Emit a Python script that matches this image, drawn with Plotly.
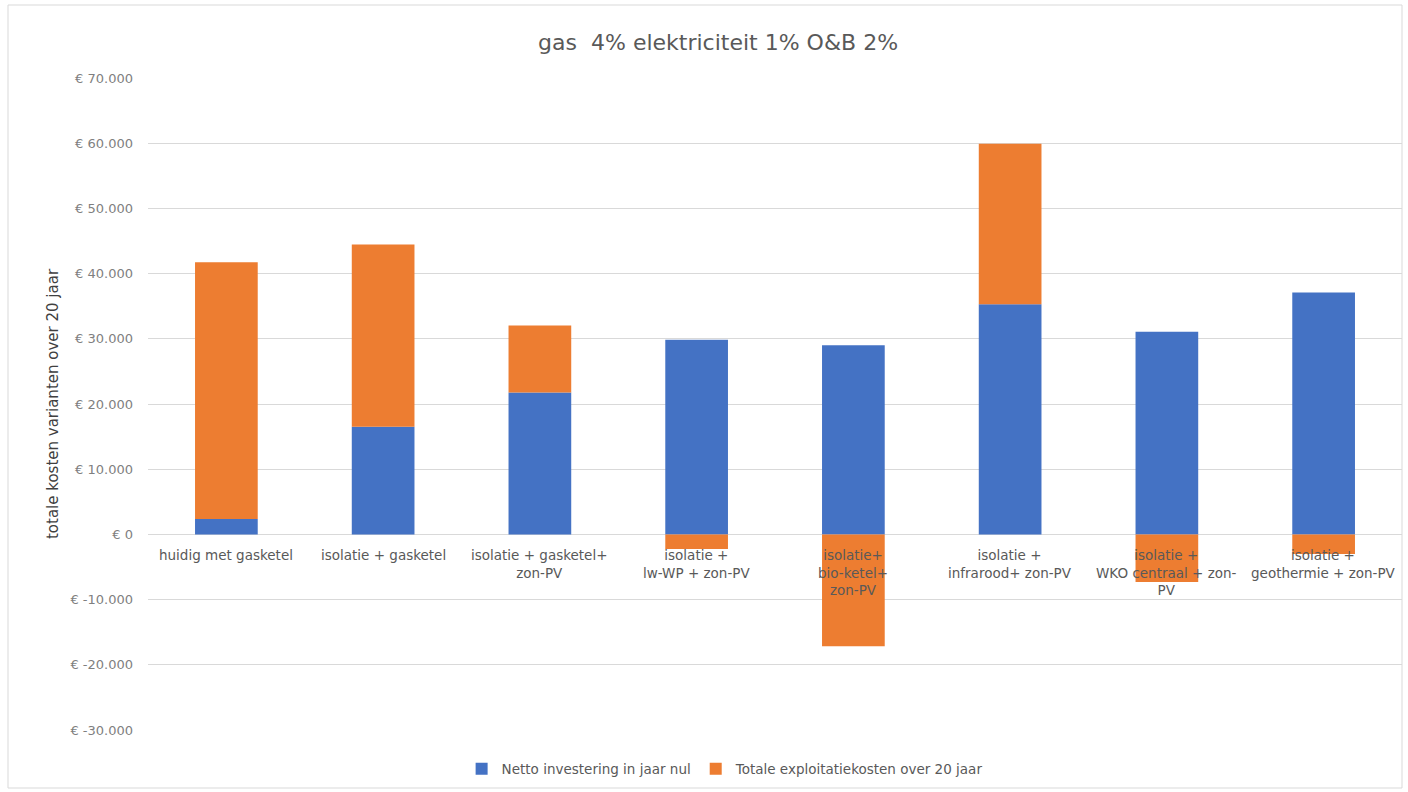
import plotly.graph_objects as go

categories = [
    "huidig met gasketel",
    "isolatie + gasketel",
    "isolatie + gasketel+<br>zon-PV",
    "isolatie +<br>lw-WP + zon-PV",
    "isolatie+<br>bio-ketel+<br>zon-PV",
    "isolatie +<br>infrarood+ zon-PV",
    "isolatie +<br>WKO centraal + zon-<br>PV",
    "isolatie +<br>geothermie + zon-PV",
]
netto_investering = [2350, 16500, 21750, 29850, 29000, 35300, 31100, 37100]
exploitatiekosten = [39400, 27950, 10300, -2250, -17150, 24600, -7300, -3000]

tick_vals = [-30000, -20000, -10000, 0, 10000, 20000, 30000, 40000, 50000, 60000, 70000]
tick_text = ["€ -30.000", "€ -20.000", "€ -10.000", "€ 0", "€ 10.000", "€ 20.000",
             "€ 30.000", "€ 40.000", "€ 50.000", "€ 60.000", "€ 70.000"]

font_family = "'DejaVu Sans', sans-serif"
grey = "#595959"

fig = go.Figure()
fig.add_trace(go.Bar(x=categories, y=netto_investering, name="Netto investering in jaar nul",
                     marker=dict(color="#4472C4", line=dict(width=0))))
fig.add_trace(go.Bar(x=categories, y=exploitatiekosten, name="Totale exploitatiekosten over 20 jaar",
                     marker=dict(color="#ED7D31", line=dict(width=0))))

for c in categories:
    fig.add_annotation(x=c, y=0, xref="x", yref="y", text=c, showarrow=False,
                       yanchor="top", yshift=-11, font=dict(family=font_family, size=13.5, color=grey),
                       align="center")

fig.add_shape(type="rect", xref="paper", yref="paper",
              x0=-140/1254, x1=1.0, y0=-58/652, y1=1 + 73/652,
              line=dict(color="#d9d9d9", width=1), fillcolor="rgba(0,0,0,0)", layer="below")

fig.update_layout(
    width=1408, height=792,
    barmode="relative", bargap=0.6,
    paper_bgcolor="white", plot_bgcolor="white",
    margin=dict(l=148, r=6, t=78, b=62),
    title=dict(text="gas  4% elektriciteit 1% O&B 2%", x=0.51, xref="container", y=1 - 42/792,
               yref="container", xanchor="center", yanchor="middle",
               font=dict(family=font_family, size=22, color=grey)),
    font=dict(family=font_family, color=grey),
    legend=dict(orientation="h", x=0.515, xref="container", xanchor="center", y=1 - 769/792, yref="container",
                yanchor="middle", font=dict(family=font_family, size=13.5, color=grey),
                itemwidth=30, traceorder="normal"),
    showlegend=True,
)
fig.update_xaxes(showticklabels=False, showgrid=False, zeroline=False, showline=False, ticks="")
fig.update_yaxes(range=[-30000, 70000], tickvals=tick_vals, ticktext=tick_text,
                 showgrid=True, gridcolor="#d9d9d9", gridwidth=1, zeroline=True, zerolinecolor="#d9d9d9",
                 zerolinewidth=1, ticks="", ticklabelstandoff=14,
                 tickfont=dict(family=font_family, size=13, color="#7f7f7f"),
                 title=dict(text="totale kosten varianten over 20 jaar", standoff=8,
                            font=dict(family=font_family, size=15, color="#404040")))

fig.write_html("out.html")
